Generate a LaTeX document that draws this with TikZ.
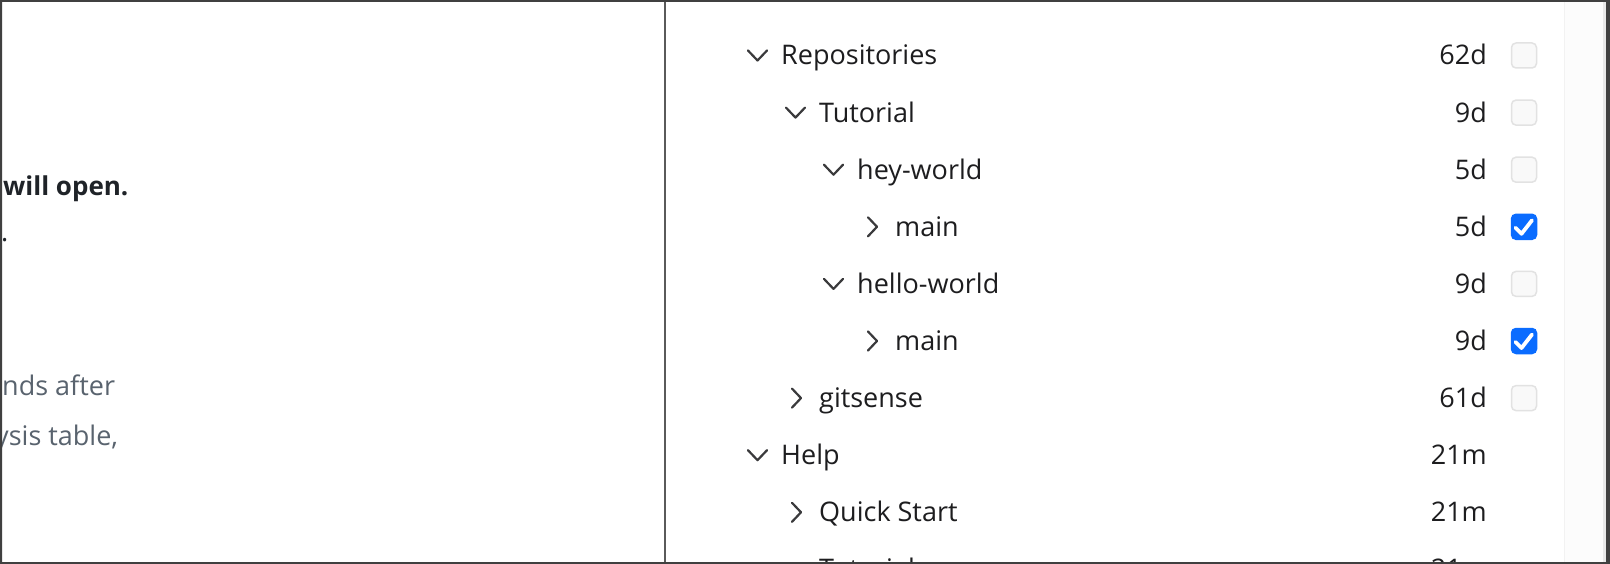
\documentclass[tikz,border=0pt]{standalone}
\usepackage{fontspec}
\setmainfont{Open Sans}
\usetikzlibrary{positioning}
\definecolor{framegray}{HTML}{404040}
\definecolor{rulegray}{HTML}{5A5A5A}
\definecolor{ink}{HTML}{1D1D1F}
\definecolor{chevgray}{HTML}{3A3A3C}
\definecolor{boxline}{HTML}{E2E2E2}
\definecolor{boxfill}{HTML}{F9F9F9}
\definecolor{checkblue}{HTML}{0A6CFF}
\definecolor{docbold}{HTML}{1F2328}
\definecolor{docgray}{HTML}{59636E}
\definecolor{trackfill}{HTML}{FCFCFC}
\definecolor{trackline}{HTML}{F2F2F2}
\definecolor{trackedge}{HTML}{E8E8E8}

\begin{document}
\begin{tikzpicture}[
    x=1pt, y=-1pt,
    item/.style={anchor=base west, inner sep=0pt, text=ink, font=\fontsize{27}{32}\selectfont},
    age/.style={anchor=base east, inner sep=0pt, text=ink, font=\fontsize{27}{32}\selectfont},
    tick/.style={draw=boxline, fill=boxfill, line width=1.5pt, rounded corners=4.5pt, minimum size=25pt, inner sep=0pt},
    ticked/.style={tick, draw=checkblue, fill=checkblue},
    doctext/.style={anchor=base west, inner sep=0pt, text=docgray, font=\fontsize{27}{32}\selectfont},
    chev/.style={draw=chevgray, line width=2.2pt, line cap=round, line join=round},
    opened/.pic={\draw[chev] (-9.5,-5) -- (0,5) -- (9.5,-5);},
    closed/.pic={\draw[chev] (-4.5,-9.5) -- (4.5,0) -- (-4.5,9.5);},
    checkmark/.pic={\draw[white, line width=3.8pt, line cap=round, line join=round] (-8.5,1) -- (-2.5,7) -- (8,-6.5);}
]
    \useasboundingbox (0,0) rectangle (1610,564);
    \fill[white] (0,0) rectangle (1610,564);

    % Scroll track and divider
    \fill[trackfill] (1564,0) rectangle (1603,564);
    \draw[trackline, line width=1pt] (1564,0) -- (1564,564);
    \fill[trackedge] (1603,0) rectangle (1606,564);
    \fill[rulegray] (664,0) rectangle (666,564);

    % Document text (cut off on the left)
    \node[doctext, text=docbold, font=\fontsize{26}{31}\selectfont\bfseries] (opens) at (3,196) {will open.};
    \node[doctext, text=docbold] (stop) at (1,242) {.};
    \node[doctext] (after) at (2,395) {nds after};
    \node[doctext] (table) at (-5,445) {ysis table,};

    % Tree labels
    \node[item] (repos) at (781,65) {Repositories};
    \node[item] (tutorial) at (819,122.1) {Tutorial};
    \node[item] (hey) at (857,179.2) {hey-world};
    \node[item] (heymain) at (895,236.3) {main};
    \node[item] (hello) at (857,293.4) {hello-world};
    \node[item] (hellomain) at (895,350.5) {main};
    \node[item] (gitsense) at (819,407.6) {gitsense};
    \node[item] (help) at (781,464.7) {Help};
    \node[item] (quick) at (819,521.8) {Quick Start};
    \node[item] (helptut) at (819,578.9) {Tutorial};

    % Chevrons
    \pic at (757.5,55.5) {opened};
    \pic at (795.5,112.6) {opened};
    \pic at (833.5,169.7) {opened};
    \pic at (872.5,226.8) {closed};
    \pic at (833.5,283.9) {opened};
    \pic at (872.5,341) {closed};
    \pic at (796.5,398.1) {closed};
    \pic at (757.5,455.2) {opened};
    \pic at (796.5,512.3) {closed};

    % Ages
    \node[age] (reposage) at (1487,65) {62d};
    \node[age] (tutorialage) at (1487,122.1) {9d};
    \node[age] (heyage) at (1487,179.2) {5d};
    \node[age] (heymainage) at (1487,236.3) {5d};
    \node[age] (helloage) at (1487,293.4) {9d};
    \node[age] (hellomainage) at (1487,350.5) {9d};
    \node[age] (gitsenseage) at (1487,407.6) {61d};
    \node[age] (helpage) at (1487,464.7) {21m};
    \node[age] (quickage) at (1487,521.8) {21m};
    \node[age] (helptutage) at (1487,578.9) {21m};

    % Checkboxes
    \node[tick] (reposbox) at (1524,55.5) {};
    \node[tick] (tutorialbox) at (1524,112.6) {};
    \node[tick] (heybox) at (1524,169.7) {};
    \node[ticked] (heymainbox) at (1524,226.8) {};
    \node[tick] (hellobox) at (1524,283.9) {};
    \node[ticked] (hellomainbox) at (1524,341) {};
    \node[tick] (gitsensebox) at (1524,398.1) {};
    \pic at (heymainbox.center) {checkmark};
    \pic at (hellomainbox.center) {checkmark};

    % Window frame
    \fill[framegray, even odd rule] (0,0) rectangle (1610,564) (2,2) rectangle (1606,562);
\end{tikzpicture}
\end{document}
